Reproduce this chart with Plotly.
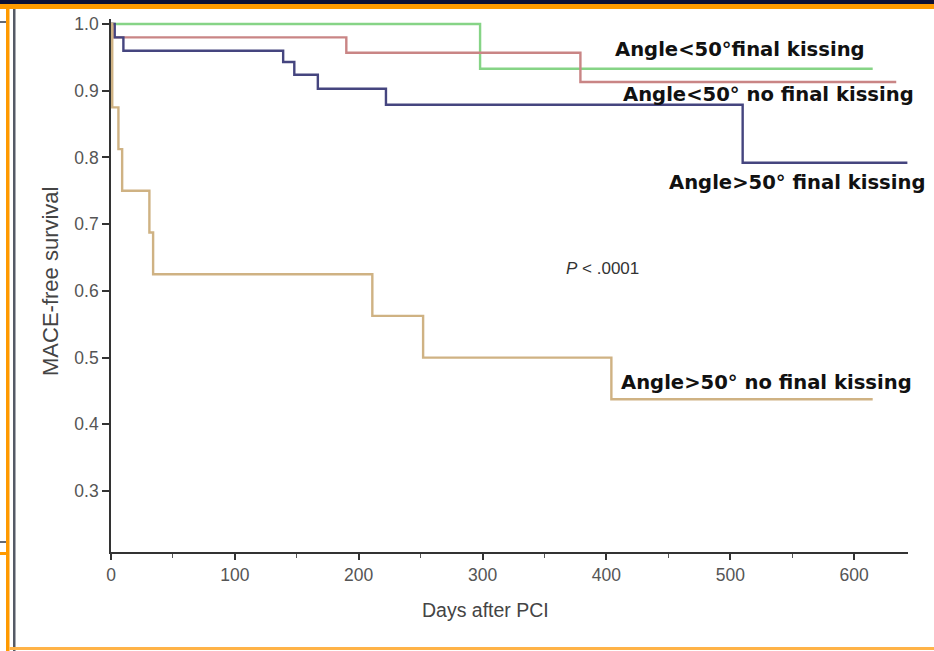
import plotly.graph_objects as go

W, H = 934, 651

# ---- data ----
green_t = [0, 298, 615]
green_s = [1.0, 0.933, 0.933]

red_t = [0, 2, 190, 379, 634]
red_s = [1.0, 0.98, 0.957, 0.913, 0.913]

blue_t = [0, 3, 10, 139, 148, 167, 222, 510, 643]
blue_s = [1.0, 0.98, 0.96, 0.943, 0.924, 0.903, 0.879, 0.792, 0.792]

orange_t = [0, 1, 6, 9, 31, 34, 211, 252, 404, 615]
orange_s = [1.0, 0.875, 0.8125, 0.75, 0.6875, 0.625, 0.5625, 0.5, 0.4375, 0.4375]

series_names = ["Angle<50°final kissing", "Angle<50° no final kissing",
                "Angle>50° final kissing", "Angle>50° no final kissing"]

y_ticks = [0.3, 0.4, 0.5, 0.6, 0.7, 0.8, 0.9, 1.0]
x_ticks = [0, 100, 200, 300, 400, 500, 600]

colors = ["#86d486", "#c98585", "#45457f", "#cfb283"]

fig = go.Figure()
for t, s, c, n in [(green_t, green_s, colors[0], series_names[0]),
                   (red_t, red_s, colors[1], series_names[1]),
                   (blue_t, blue_s, colors[2], series_names[2]),
                   (orange_t, orange_s, colors[3], series_names[3])]:
    fig.add_trace(go.Scatter(x=t, y=s, mode="lines", line=dict(color=c, width=2.4, shape="hv"),
                             name=n, showlegend=False))

label_pos = [(405, 0.9625), (412, 0.895), (449, 0.763), (410, 0.462)]
for (x, y), n in zip(label_pos, series_names):
    fig.add_annotation(x=x, y=y, xref="x", yref="y", text="<b>" + n + "</b>", showarrow=False,
                       xanchor="left", yanchor="middle",
                       font=dict(family="DejaVu Sans", size=19.6, color="#111111"))

fig.add_annotation(x=366, y=0.634, xref="x", yref="y", text="<i>P</i> < .0001", showarrow=False,
                   xanchor="left", yanchor="middle",
                   font=dict(family="Liberation Sans", size=17, color="#333333"))

# axis titles
fig.add_annotation(x=485 / W, y=1 - 610 / H, xref="paper", yref="paper", text="Days after PCI",
                   showarrow=False, xanchor="center", yanchor="middle",
                   font=dict(family="Liberation Sans", size=19.5, color="#444444"))
fig.add_annotation(x=50 / W, y=1 - 282 / H, xref="paper", yref="paper", text="MACE-free survival",
                   showarrow=False, xanchor="center", yanchor="middle", textangle=-90,
                   font=dict(family="Liberation Sans", size=22, color="#444444"))

# frame decorations
shapes = [
    dict(type="rect", xref="paper", yref="paper", x0=0, x1=1, y0=1 - 4 / H, y1=1,
         fillcolor="#0d1035", line=dict(width=0), layer="above"),
    dict(type="rect", xref="paper", yref="paper", x0=0, x1=1, y0=1 - 9 / H, y1=1 - 4 / H,
         fillcolor="#ff9a00", line=dict(width=0), layer="above"),
    dict(type="rect", xref="paper", yref="paper", x0=6 / W, x1=9.5 / W, y0=0, y1=1 - 4 / H,
         fillcolor="#ff9a00", line=dict(width=0), layer="above"),
    dict(type="rect", xref="paper", yref="paper", x0=13 / W, x1=15.5 / W, y0=0, y1=1 - 9 / H,
         fillcolor="#555a66", line=dict(width=0), layer="above"),
    dict(type="rect", xref="paper", yref="paper", x0=9.5 / W, x1=1, y0=1 - 650 / H, y1=1 - 647 / H,
         fillcolor="#ffb347", line=dict(width=0), layer="above"),
    dict(type="rect", xref="paper", yref="paper", x0=0, x1=6 / W, y0=1 - 543 / H, y1=1 - 541 / H,
         fillcolor="#666a75", line=dict(width=0), layer="above"),
    dict(type="rect", xref="paper", yref="paper", x0=0, x1=6 / W, y0=1 - 555 / H, y1=1 - 552 / H,
         fillcolor="#ff9a00", line=dict(width=0), layer="above"),
    dict(type="rect", xref="paper", yref="paper", x0=0, x1=6 / W, y0=1 - 23 / H, y1=1 - 21 / H,
         fillcolor="#666a75", line=dict(width=0), layer="above"),
]

y_top_px = 19.0
y_top_val = 1.0 + (24 - y_top_px) / 667.1

fig.update_layout(
    width=W, height=H,
    margin=dict(l=0, r=0, t=0, b=0),
    paper_bgcolor="white", plot_bgcolor="white",
    shapes=shapes,
    xaxis=dict(domain=[111 / W, 908 / W], range=[0, 643.5], tickvals=x_ticks,
               showgrid=False, zeroline=False, showline=True, linecolor="#333333", linewidth=1.6,
               ticks="outside", ticklen=6, tickwidth=1.5, tickcolor="#333333",
               minor=dict(dtick=50, tick0=0, ticks="outside", ticklen=4, tickwidth=1.2, tickcolor="#555555", showgrid=False),
               tickfont=dict(family="Liberation Sans", size=17.5, color="#555555"), automargin=False),
    yaxis=dict(domain=[1 - 552 / H, 1 - y_top_px / H], range=[0.2086, y_top_val], tickvals=y_ticks,
               tickformat=".1f",
               showgrid=False, zeroline=False, showline=True, linecolor="#333333", linewidth=1.6,
               ticks="outside", ticklen=7, tickwidth=1.5, tickcolor="#333333",
               tickfont=dict(family="Liberation Sans", size=17.5, color="#555555"), automargin=False),
)

fig.write_html("out.html")
